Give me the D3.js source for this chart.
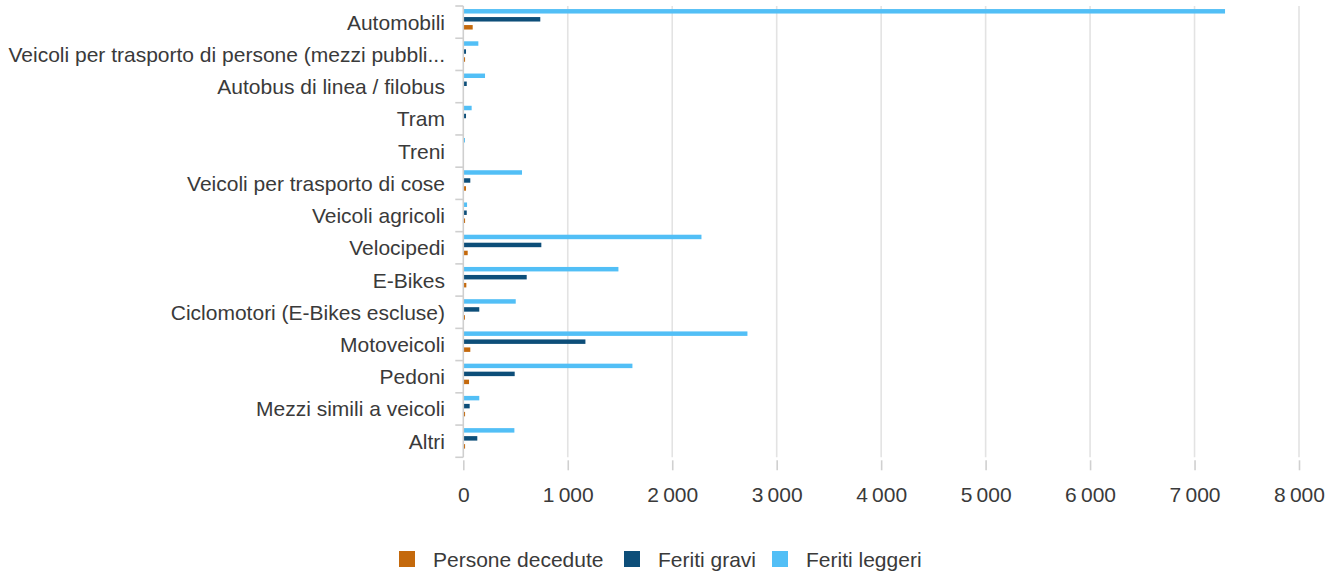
<!DOCTYPE html>
<html>
<head>
<meta charset="utf-8">
<script src="https://cdn.jsdelivr.net/npm/d3@7"></script>
<style>
  html, body { margin: 0; padding: 0; background: #fff; }
  svg { display: block; font-family: "Liberation Sans", Arial, sans-serif; }
</style>
</head>
<body>
<svg id="chart" width="1340" height="573"></svg>
<script>
const categories = [
  "Automobili",
  "Veicoli per trasporto di persone (mezzi pubbli...",
  "Autobus di linea / filobus",
  "Tram",
  "Treni",
  "Veicoli per trasporto di cose",
  "Veicoli agricoli",
  "Velocipedi",
  "E-Bikes",
  "Ciclomotori (E-Bikes escluse)",
  "Motoveicoli",
  "Pedoni",
  "Mezzi simili a veicoli",
  "Altri"
];
const seriesNames = ["Feriti leggeri", "Feriti gravi", "Persone decedute"];
const legendOrder = ["Persone decedute", "Feriti gravi", "Feriti leggeri"];
const feritiLeggeri = [7292, 144, 208, 80, 16, 562, 36, 2280, 1485, 502, 2720, 1619, 153, 489];
const feritiGravi   = [737, 26, 33, 26, 0, 67, 33, 747, 607, 153, 1169, 492, 61, 134];
const personeDecedute = [90, 17, 0, 0, 0, 26, 17, 42, 29, 16, 67, 55, 17, 17];
const xTicks = [0, 1000, 2000, 3000, 4000, 5000, 6000, 7000, 8000];

const colors = {
  "Persone decedute": "#C4690C",
  "Feriti gravi": "#0D4E79",
  "Feriti leggeri": "#52BFF6"
};
const seriesValues = {
  "Feriti leggeri": feritiLeggeri,
  "Feriti gravi": feritiGravi,
  "Persone decedute": personeDecedute
};

(function () {
const svg = d3.select("#chart");
const mLeft = 463.3, mRight = 1299, mTop = 6, mBottom = 457.3;
const textColor = "#3a3a3a";
const fs = 21;

const x = d3.scaleLinear().domain([0, 8000]).range([mLeft, mRight]);
const y = d3.scaleBand().domain(categories).range([mTop, mBottom]).padding(0);
const bw = y.bandwidth();
const inner = d3.scaleBand().domain(seriesNames)
  .range([bw * 0.095, bw * 0.73]).paddingInner(0.44).paddingOuter(0);

// gridlines
svg.append("g")
  .selectAll("line").data(xTicks.filter(d => d > 0)).join("line")
  .attr("x1", d => x(d)).attr("x2", d => x(d))
  .attr("y1", mTop).attr("y2", mBottom)
  .attr("stroke", "#e3e3e3").attr("stroke-width", 1.6);

// x axis (tick marks + labels, no domain line)
const xAxis = svg.append("g").attr("transform", `translate(0,${mBottom + 3})`)
  .call(d3.axisBottom(x).tickValues(xTicks).tickSize(10).tickPadding(16.5)
    .tickFormat(d => d3.format(",")(d).replace(/,/g, "\u2009")));
xAxis.select(".domain").remove();
xAxis.selectAll(".tick line").attr("stroke", "#d0d0d0").attr("stroke-width", 1.6);
xAxis.selectAll(".tick text").attr("fill", textColor).attr("font-size", fs)
  .attr("font-family", "'Liberation Sans', Arial, sans-serif");

// bars
const groups = svg.append("g").selectAll("g").data(categories).join("g")
  .attr("transform", d => `translate(0,${y(d)})`);
groups.selectAll("rect")
  .data((c, i) => seriesNames.map(s => ({ s, v: seriesValues[s][i] })))
  .join("rect")
  .attr("x", x(0))
  .attr("y", d => inner(d.s))
  .attr("width", d => Math.max(0, x(d.v) - x(0)))
  .attr("height", inner.bandwidth())
  .attr("fill", d => colors[d.s]);

// y axis
const boundaries = categories.map(c => y(c)).concat([mBottom]);
const yAxisG = svg.append("g");
yAxisG.append("line")
  .attr("x1", mLeft).attr("x2", mLeft).attr("y1", mTop).attr("y2", mBottom)
  .attr("stroke", "#cfcfcf").attr("stroke-width", 1.6);
yAxisG.selectAll("line.tk").data(boundaries).join("line").attr("class", "tk")
  .attr("x1", mLeft - 8).attr("x2", mLeft).attr("y1", d => d).attr("y2", d => d)
  .attr("stroke", "#cfcfcf").attr("stroke-width", 1.6);
yAxisG.selectAll("text").data(categories).join("text")
  .attr("x", 445).attr("y", d => y(d) + bw / 2)
  .attr("text-anchor", "end").attr("dominant-baseline", "central")
  .attr("font-size", fs).attr("fill", textColor)
  .text(d => d);

// legend
const legendPos = [
  { name: "Persone decedute", sx: 399, tx: 433 },
  { name: "Feriti gravi", sx: 624, tx: 658 },
  { name: "Feriti leggeri", sx: 772, tx: 806 }
];
const lg = svg.append("g");
lg.selectAll("rect").data(legendPos.filter(p => legendOrder.includes(p.name))).join("rect")
  .attr("x", d => d.sx).attr("y", 551).attr("width", 16).attr("height", 16)
  .attr("fill", d => colors[d.name]);
lg.selectAll("text").data(legendPos).join("text")
  .attr("x", d => d.tx).attr("y", 559).attr("dominant-baseline", "central")
  .attr("font-size", fs).attr("fill", textColor)
  .text(d => d.name);
})();
</script>
</body>
</html>
